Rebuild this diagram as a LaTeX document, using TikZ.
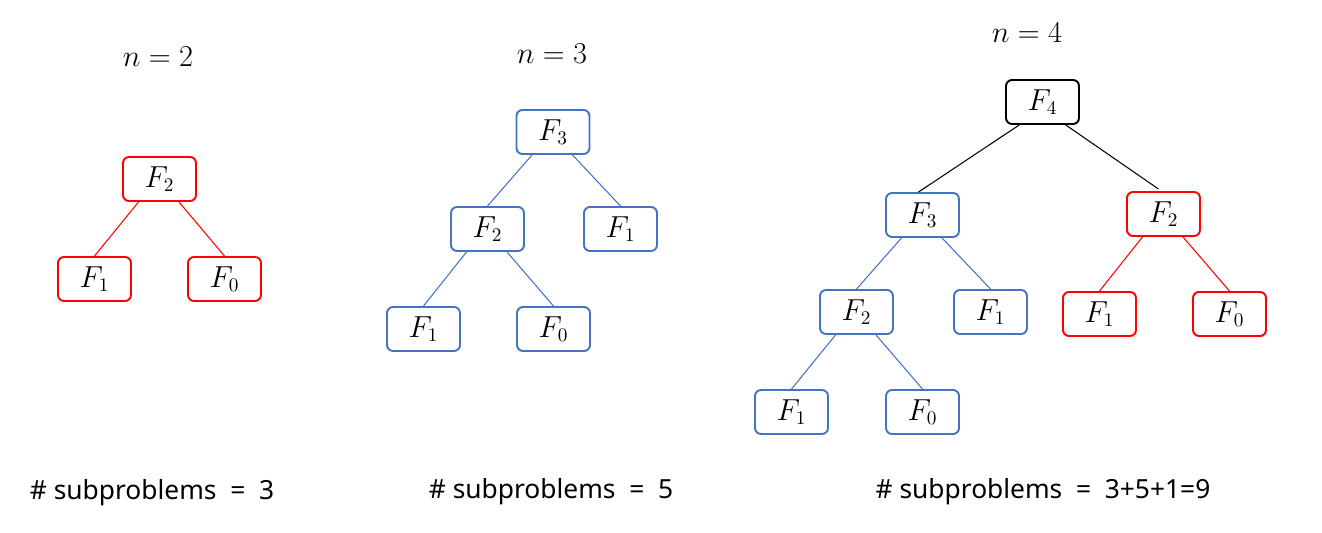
\documentclass[tikz,border=0pt]{standalone}
\usepackage{fontspec}
\setsansfont{Noto Sans}
\usetikzlibrary{calc}
\definecolor{boxblue}{RGB}{68,114,196}
\definecolor{boxred}{RGB}{255,0,0}

\begin{document}
\begin{tikzpicture}
    [fib/.style={rectangle,rounded corners=0.12cm,minimum height=0.88cm, minimum width=1.46cm, line width=1.1pt, fill=white, font=\fontsize{16}{19}\selectfont},
    redfib/.style={fib,draw=boxred},
    bluefib/.style={fib,draw=boxblue},
    blackfib/.style={fib,draw=black},
    title/.style={font=\fontsize{16}{19}\selectfont},
    count/.style={font=\sffamily\fontsize{15}{18}\selectfont},
    redline/.style={boxred,line width=0.6pt},
    blueline/.style={boxblue,line width=0.6pt},
    blackline/.style={black,line width=0.6pt}]
\useasboundingbox (0,0) rectangle (26.44,-10.66);
% n = 2
\node[title] (lab2) at (3.16,-1.14) {$n=2$};
\node[redfib] (a2) at (3.19,-3.58) {$F_2$};
\node[redfib] (a1) at (1.89,-5.58) {$F_1$};
\node[redfib] (a0) at (4.49,-5.58) {$F_0$};
\draw[redline] ($(a2.south west)!.22!(a2.south east)$) -- (a1.north);
\draw[redline] ($(a2.south west)!.76!(a2.south east)$) -- (a0.north);
\node[count] (t2) at (3.04,-9.86) {\# subproblems \ = \ 3};
% n = 3
\node[title] (lab3) at (11.04,-1.08) {$n=3$};
\node[bluefib] (b3) at (11.06,-2.64) {$F_3$};
\node[bluefib] (b2) at (9.75,-4.58) {$F_2$};
\node[bluefib] (b1) at (12.41,-4.58) {$F_1$};
\node[bluefib] (b21) at (8.47,-6.58) {$F_1$};
\node[bluefib] (b20) at (11.07,-6.58) {$F_0$};
\draw[blueline] ($(b3.south west)!.22!(b3.south east)$) -- (b2.north);
\draw[blueline] ($(b3.south west)!.76!(b3.south east)$) -- (b1.north);
\draw[blueline] ($(b2.south west)!.22!(b2.south east)$) -- (b21.north);
\draw[blueline] ($(b2.south west)!.76!(b2.south east)$) -- (b20.north);
\node[count] (t3) at (11.02,-9.84) {\# subproblems \ = \ 5};
% n = 4
\node[title] (lab4) at (20.54,-0.66) {$n=4$};
\node[blackfib] (c4) at (20.85,-2.04) {$F_4$};
\node[bluefib] (c3) at (18.45,-4.30) {$F_3$};
\node[redfib] (c2) at (23.27,-4.28) {$F_2$};
\node[bluefib] (c32) at (17.13,-6.24) {$F_2$};
\node[bluefib] (c31) at (19.81,-6.24) {$F_1$};
\node[redfib] (c21) at (21.99,-6.28) {$F_1$};
\node[redfib] (c20) at (24.59,-6.28) {$F_0$};
\node[bluefib] (c321) at (15.83,-8.24) {$F_1$};
\node[bluefib] (c320) at (18.45,-8.24) {$F_0$};
\draw[blackline] ($(c4.south west)!.19!(c4.south east)$) -- ($(c3.north)+(-0.08,0)$);
\draw[blackline] ($(c4.south west)!.81!(c4.south east)$) -- ($(c2.north)+(-0.1,0.04)$);
\draw[blueline] ($(c3.south west)!.22!(c3.south east)$) -- (c32.north);
\draw[blueline] ($(c3.south west)!.76!(c3.south east)$) -- (c31.north);
\draw[blueline] ($(c32.south west)!.22!(c32.south east)$) -- (c321.north);
\draw[blueline] ($(c32.south west)!.76!(c32.south east)$) -- (c320.north);
\draw[redline] ($(c2.south west)!.22!(c2.south east)$) -- (c21.north);
\draw[redline] ($(c2.south west)!.76!(c2.south east)$) -- (c20.north);
\node[count] (t4) at (20.86,-9.84) {\# subproblems \ = \ 3+5+1=9};
\end{tikzpicture}
\end{document}
